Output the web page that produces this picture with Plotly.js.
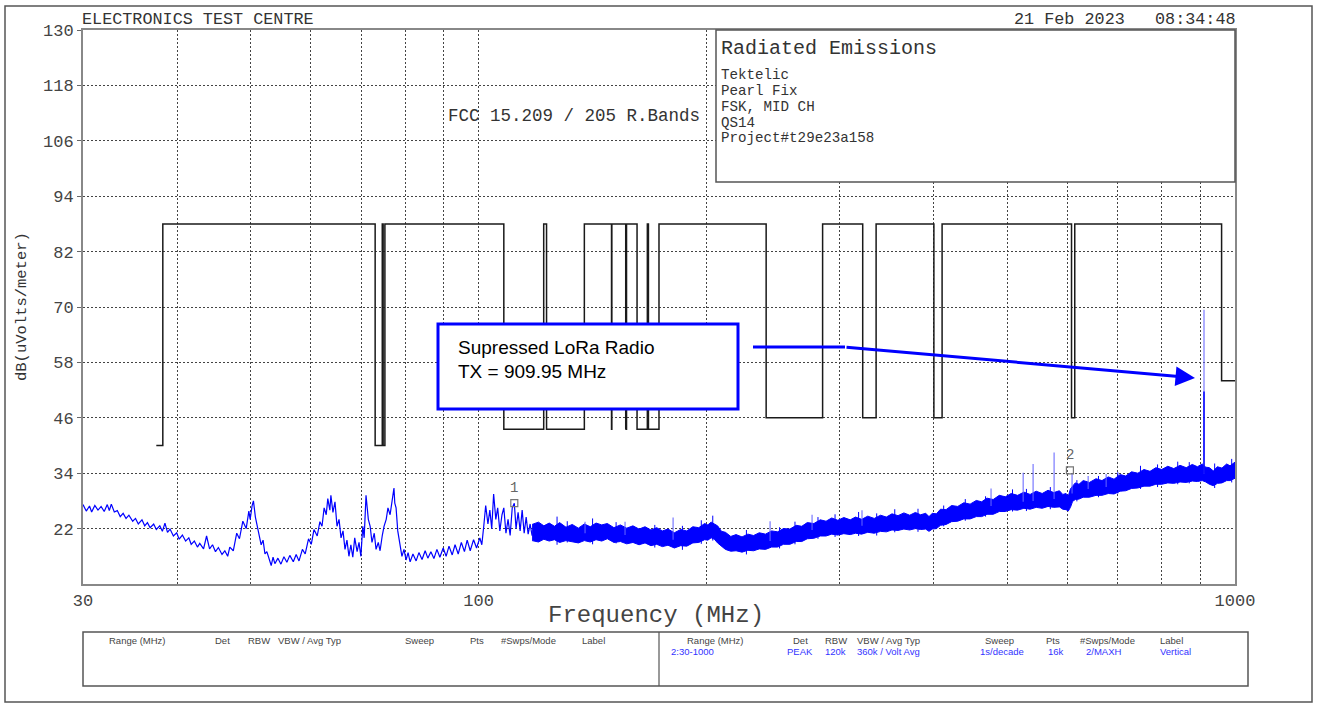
<!DOCTYPE html>
<html><head><meta charset="utf-8">
<script src="https://cdn.plot.ly/plotly-3.0.1.min.js"></script>
<style>html,body{margin:0;padding:0;background:#fff}</style>
</head><body><div id="chart" style="width:1318px;height:706px"></div>
<script>
// ---------- DATA ----------
// FCC 15.209 / 15.205 restricted-band limit line (step, held until next breakpoint)
const limitFreq  = [37.5,38.25,73,74.6,74.8,75.2,108,121.94,123,138,149.9,150.05,156.52475,156.52525,156.7,156.9,162.0125,167.17,167.72,173.2,240,285,322,335.4,399.9,410,608,614,960,1000];
const limitLevel = [40,88,40,88,40,88,43.5,88,43.5,88,43.5,88,43.5,88,43.5,88,43.5,88,43.5,88,46,88,46,88,46,88,46,88,54,54];

// Measured trace, 30 - 118 MHz
const lfFreq = [30.0,30.3,30.6,30.8,31.1,31.4,31.7,32.0,32.3,32.5,32.7,33.0,33.3,33.6,33.9,34.2,34.5,34.9,35.2,35.5,35.9,36.2,36.5,36.8,37.2,37.5,37.9,38.2,38.5,38.8,39.1,39.5,39.9,40.2,40.6,41.0,41.4,41.7,42.1,42.5,42.8,43.3,43.7,44.1,44.5,44.9,45.3,45.8,46.2,46.6,46.9,47.4,47.9,48.3,48.8,49.3,49.7,49.9,50.2,50.4,50.7,51.1,51.3,51.6,51.9,52.2,52.5,52.9,53.2,53.5,53.8,54.3,54.8,55.3,55.8,56.3,56.9,57.4,57.9,58.5,59.0,59.6,60.1,60.6,61.2,61.7,62.1,62.5,62.9,63.2,63.6,63.8,64.2,64.6,65.0,65.4,65.8,66.2,66.6,67.0,67.4,67.8,68.2,68.6,69.1,69.5,69.9,70.3,70.6,71.0,71.2,71.5,71.9,72.3,72.8,73.2,73.7,74.1,74.6,75.0,75.5,75.9,76.4,76.8,77.3,77.5,77.8,78.2,78.7,79.2,79.7,80.2,80.7,81.2,81.9,82.7,83.4,84.2,85.0,85.7,86.5,87.3,88.1,88.9,89.8,90.6,91.4,92.3,93.1,94.0,94.9,95.8,96.6,97.5,98.5,99.4,100.4,101.0,101.6,102.2,102.9,103.5,104.1,104.7,105.4,106.0,106.7,107.4,108.0,108.7,109.4,110.1,110.8,111.5,112.1,112.8,113.5,114.2,114.9,115.6,116.3,117.0,117.7];
const lfLevel = [27.2,25.8,26.9,25.6,27.0,26.0,26.8,25.7,27.2,25.9,27.3,25.6,25.9,24.6,25.3,24.2,24.9,23.6,24.2,23.0,23.9,22.6,23.3,22.2,23.0,21.8,22.6,21.4,23.2,21.2,21.9,20.4,21.1,19.7,20.6,19.3,20.0,18.6,19.3,18.0,18.8,17.6,20.4,17.6,18.5,17.0,17.9,16.4,17.2,16.0,18.0,17.2,21.0,19.8,23.6,22.0,25.8,24.0,27.0,28.0,24.5,22.0,20.5,18.5,19.5,16.5,17.0,15.0,14.0,15.8,14.4,15.6,14.3,15.9,14.7,16.2,14.8,16.4,15.0,17.5,16.5,19.8,18.6,21.8,20.4,23.5,22.5,26.5,25.0,28.5,26.0,29.2,25.5,27.8,22.5,24.0,20.0,21.5,17.5,19.5,16.0,18.5,15.8,20.0,17.0,19.0,16.0,22.5,20.0,29.2,27.0,24.0,22.5,19.0,21.0,17.5,19.0,17.2,20.5,22.5,24.0,26.5,25.0,28.0,30.8,27.5,26.5,21.5,18.5,16.0,17.5,15.2,16.8,14.8,16.5,15.0,16.8,15.3,17.2,15.6,17.0,15.5,17.5,15.8,17.8,16.0,18.2,16.3,18.5,16.5,19.0,17.0,19.5,17.2,19.6,17.8,20.0,18.5,22.5,27.0,23.0,26.0,22.0,29.5,24.0,26.5,21.5,25.0,26.5,21.0,24.0,20.5,26.5,27.5,22.0,25.5,21.5,26.0,21.0,24.5,20.8,23.0,20.5];

// Measured trace, 118 - 1000 MHz : dense band (max / min edge of the sweep)
const bandFreq  = [117.7,120,122,124,126,128,130.5,133,135.5,138,140.5,143,145.5,148,151,154,157,160,163,166,169,172,175,178,181.5,185,188.5,192,195.5,199,201,203,205,207,209.5,212,215.5,219,223,227,231,235,239.5,244,248.5,253,258,263,267.5,272,277.5,283,288,293,298.5,304,310,315,321,327,333.5,340,346,352,358.5,365,371.5,378,384,390,394,398,403,408,415,422,430,438,446.5,455,462.5,470,479,488,497,506,516,526,536,546,556,566,576,586,592,598,602,606,610,615,622,630,642,655,667,680,692,705,717,730,744,758,772,786,800,815,830,846,862,878,892,905,915,925,936,948,961,975,985,1000];
const bandUpper = [22.9,23.4,22.6,23.2,22.5,23.3,22.3,22.9,22.1,23.0,22.4,23.2,22.8,23.1,22.2,22.8,22.1,22.6,21.9,22.4,21.7,22.2,21.5,21.9,21.1,21.8,21.5,22.4,22.2,23.1,22.8,23.4,23.0,22.6,21.4,21.2,20.3,20.7,20.2,20.8,20.5,21.1,20.8,21.5,21.3,22.0,21.9,22.7,22.5,23.3,23.1,23.9,23.6,24.3,23.8,24.4,23.9,24.5,24.0,24.7,24.2,24.9,24.5,25.2,24.8,25.4,24.9,25.5,25.0,25.3,24.6,25.3,25.2,26.2,26.1,27.0,26.8,27.6,27.3,28.1,27.8,28.6,28.3,29.2,28.9,29.6,29.2,29.9,29.4,30.1,29.6,30.3,29.8,30.2,29.4,29.6,29.0,30.6,31.2,31.9,31.6,32.4,32.0,32.8,32.4,33.2,32.7,33.7,33.4,34.3,34.0,34.8,34.4,35.2,34.8,35.5,35.0,35.7,35.2,35.9,35.4,36.0,35.3,35.2,34.5,35.4,35.1,36.0,35.6,36.4];
const bandLower = [19.4,19.1,19.7,19.3,19.6,19.0,19.4,19.2,18.9,19.4,19.1,19.6,19.3,19.8,19.0,19.2,18.7,19.0,18.5,18.9,18.3,18.6,18.1,18.4,17.8,18.3,18.2,18.9,19.0,19.6,19.5,20.0,19.7,18.9,18.1,17.5,17.1,17.2,16.9,17.3,17.2,17.6,17.5,18.0,18.0,18.6,18.6,19.2,19.2,19.8,19.9,20.4,20.4,20.8,20.6,20.9,20.7,21.0,20.8,21.2,21.0,21.4,21.3,21.7,21.6,21.9,21.7,22.0,21.8,21.9,21.4,21.9,22.0,22.7,22.9,23.5,23.6,24.1,24.1,24.6,24.6,25.1,25.1,25.7,25.7,26.1,26.0,26.4,26.2,26.6,26.4,26.8,26.6,26.7,26.2,26.1,25.8,26.6,27.9,28.3,28.4,28.8,28.8,29.2,29.2,29.6,29.5,30.1,30.2,30.7,30.8,31.2,31.2,31.6,31.6,31.9,31.8,32.1,32.0,32.3,32.2,32.4,32.1,31.6,31.3,31.8,31.9,32.4,32.4,32.9];

// Irregular noise excursions (max / min) along the band
const noiseFreq = [127,131,141.5,152,171,186,197,204,226,250,262,281,296,318,336,355,381,412,440,468,508,530,570,618,660,700,750,790,840,870,940,990];
const noiseHigh = [24.6,23.6,24.2,23.4,22.8,22.6,23.8,24.8,21.7,22.3,23.5,24.5,25.1,25.6,25.3,26.2,26.3,27.0,28.4,29.0,30.5,30.6,31.0,32.5,33.4,34.2,35.6,35.9,36.5,36.4,36.1,37.1];
const noiseLow  = [18.5,19.0,18.6,18.8,17.9,17.4,18.7,19.4,16.4,17.7,18.6,19.8,20.2,20.4,20.5,21.2,21.3,22.5,23.7,24.6,25.7,25.8,26.2,27.9,28.8,29.6,30.6,31.0,31.6,31.8,30.8,32.0];

// Isolated emissions (max-hold spikes): base level and peak
const spikeFreq = [138.3,156.2,180.8,242.9,276.0,321.3,475.9,524.8,540.9,576.6,609.0,639.6,675.6,909.95];
const spikeBase = [21.0,20.6,19.6,19.3,21.7,22.6,26.9,27.8,28.0,28.4,29.6,30.6,31.0,33.9];
const spikeTop  = [23.5,23.5,24.4,23.6,25.0,26.0,30.7,34.1,36.0,38.5,34.0,33.4,33.8,69.4];
// LoRa transmitter (averaged trace)
const txFreq = [909.95];
const txBase = [33.9];
const txTop  = [51.7];

// Markers
const markerFreq  = [111.5, 605];
const markerLevel = [27.5, 34.6];
const markerLabel = ['1', '2'];

// Axis ticks
const xTickVals = [30,40,50,60,70,80,90,100,200,300,400,500,600,700,800,900,1000];
const xTickText = ['30','','','','','','','100','','','','','','','','','1000'];
const yTickVals = [22,34,46,58,70,82,94,106,118,130];

// Texts
const headerLeft  = 'ELECTRONICS TEST CENTRE';
const headerRight = '21 Feb 2023   08:34:48';
const limitLabel  = 'FCC 15.209 / 205 R.Bands';
const infoTitle   = 'Radiated Emissions';
const infoLines   = ['Tektelic','Pearl Fix','FSK, MID CH','QS14','Project#t29e23a158'];
const calloutLines = ['Supressed LoRa Radio','TX = 909.95 MHz'];
const tableHeaders = ['Range (MHz)','Det','RBW','VBW / Avg Typ','Sweep','Pts','#Swps/Mode','Label'];
const tableValues  = ['2:30-1000','PEAK','120k','360k / Volt Avg','1s/decade','16k','2/MAXH','Vertical'];

// ---------- LAYOUT HELPERS ----------
const L = 83, R = 1235, T = 30, B = 584;
const px = x => (x - L) / (R - L);
const py = y => (B - y) / (B - T);
const MONO = 'Liberation Mono, DejaVu Sans Mono, monospace';
const BLUE = '#0000ff';
const PAD = 3; // annotation inner padding compensation

// ---------- TRACES ----------
const traces = [];
traces.push({x: limitFreq, y: limitLevel, mode: 'lines', line: {shape: 'hv', color: '#1a1a1a', width: 1.5}, hoverinfo: 'skip'});

traces.push({
  x: bandFreq.concat(bandFreq.slice().reverse()),
  y: bandUpper.concat(bandLower.slice().reverse()),
  mode: 'lines', fill: 'toself', fillcolor: BLUE, line: {color: BLUE, width: 1}, hoverinfo: 'skip'
});

const nx = [], ny = [];
noiseFreq.forEach((f, i) => { nx.push(f, f, null); ny.push(noiseHigh[i], noiseLow[i], null); });
traces.push({x: nx, y: ny, mode: 'lines', line: {color: BLUE, width: 1}, hoverinfo: 'skip'});

traces.push({x: lfFreq, y: lfLevel, mode: 'lines', line: {color: BLUE, width: 1.2}, hoverinfo: 'skip'});

const sx = [], sy = [];
spikeFreq.forEach((f, i) => { sx.push(f, f, null); sy.push(spikeBase[i], spikeTop[i], null); });
traces.push({x: sx, y: sy, mode: 'lines', line: {color: 'rgba(100,100,255,0.8)', width: 1.3}, hoverinfo: 'skip'});

const tx = [], ty = [];
txFreq.forEach((f, i) => { tx.push(f, f, null); ty.push(txBase[i], txTop[i], null); });
traces.push({x: tx, y: ty, mode: 'lines', line: {color: BLUE, width: 1.5}, hoverinfo: 'skip'});

traces.push({x: markerFreq, y: markerLevel, mode: 'markers',
  marker: {symbol: 'square-open', size: 7, color: '#777', line: {width: 1.2, color: '#777'}}, hoverinfo: 'skip'});

// ---------- ANNOTATIONS ----------
const ann = [];
const A = (o) => ann.push(Object.assign({xref: 'paper', yref: 'paper', showarrow: false}, o));
A({x: px(83 - PAD), y: py(20), xanchor: 'left', yanchor: 'middle', text: headerLeft, font: {family: MONO, size: 16.8, color: '#333'}});
A({x: px(1235 + PAD), y: py(20), xanchor: 'right', yanchor: 'middle', text: headerRight, font: {family: MONO, size: 16.8, color: '#333'}});
A({x: px(449 - PAD), y: py(116), xanchor: 'left', yanchor: 'middle', text: limitLabel, font: {family: MONO, size: 17.5, color: '#333'}});
A({x: px(722 - PAD), y: py(48), xanchor: 'left', yanchor: 'middle', text: infoTitle, font: {family: MONO, size: 20, color: '#333'}});
const infoY = [75, 91, 107, 123, 138];
infoLines.forEach((t, i) => A({x: px(722 - PAD), y: py(infoY[i]), xanchor: 'left', yanchor: 'middle', text: t, font: {family: MONO, size: 14.2, color: '#333'}}));
A({x: px(22), y: py(307), xanchor: 'center', yanchor: 'middle', textangle: -90, text: 'dB(uVolts/meter)', font: {family: MONO, size: 15.5, color: '#333'}});
A({x: px(656), y: py(615), xanchor: 'center', yanchor: 'middle', text: 'Frequency (MHz)', font: {family: MONO, size: 24, color: '#444'}});
A({x: px(459 - PAD), y: py(348), xanchor: 'left', yanchor: 'middle', text: calloutLines[0], font: {family: 'Liberation Sans, Arial, sans-serif', size: 19, color: '#000'}});
A({x: px(459 - PAD), y: py(371), xanchor: 'left', yanchor: 'middle', text: calloutLines[1], font: {family: 'Liberation Sans, Arial, sans-serif', size: 19, color: '#000'}});
ann.push({xref: 'paper', yref: 'paper', x: px(1195), y: py(378), ax: -(1195 - 845), ay: -(378 - 347),
  text: '', showarrow: true, arrowhead: 2, arrowsize: 1.3, arrowwidth: 3, arrowcolor: BLUE, standoff: 0});
// table
const hdrL = [110,216,249,279,406,471,502,583];
const hdrR = [688,794,826,858,986,1047,1081,1161];
const valR = [672,788,826,858,981,1049,1087,1161];
const tFont = {family: 'Liberation Sans, Arial, sans-serif', size: 9.5, color: '#444'};
tableHeaders.forEach((t, i) => {
  A({x: px(hdrL[i] - PAD), y: py(640), xanchor: 'left', yanchor: 'middle', text: t, font: tFont});
  A({x: px(hdrR[i] - PAD), y: py(640), xanchor: 'left', yanchor: 'middle', text: t, font: tFont});
});
tableValues.forEach((t, i) => A({x: px(valR[i] - PAD), y: py(651), xanchor: 'left', yanchor: 'middle', text: t,
  font: {family: 'Liberation Sans, Arial, sans-serif', size: 9.5, color: '#3333ff'}}));
// marker labels
markerFreq.forEach((f, i) => ann.push({xref: 'x', yref: 'y', x: Math.log10(f), y: markerLevel[i], yshift: 15,
  text: markerLabel[i], showarrow: false, font: {family: MONO, size: 14, color: '#666'}}));

// ---------- SHAPES ----------
const shapes = [
  {type: 'rect', xref: 'paper', yref: 'paper', x0: px(716), x1: 1, y0: py(182), y1: 1, fillcolor: '#fff', line: {color: '#555', width: 1.5}, layer: 'above'},
  {type: 'rect', xref: 'paper', yref: 'paper', x0: px(438), x1: px(738), y0: py(409), y1: py(324), fillcolor: '#fff', line: {color: BLUE, width: 3}, layer: 'above'},
  {type: 'line', xref: 'paper', yref: 'paper', x0: px(753), x1: px(845), y0: py(347), y1: py(347), line: {color: BLUE, width: 3}, layer: 'above'},
  {type: 'rect', xref: 'paper', yref: 'paper', x0: 0, x1: px(1248), y0: py(686), y1: py(632), line: {color: '#555', width: 1.5}},
  {type: 'line', xref: 'paper', yref: 'paper', x0: px(659), x1: px(659), y0: py(686), y1: py(632), line: {color: '#555', width: 1.2}},
  {type: 'rect', xref: 'paper', yref: 'paper', x0: px(5), x1: px(1312), y0: py(702), y1: py(6), line: {color: '#555', width: 1.5}}
];

const layout = {
  width: 1318, height: 706,
  margin: {l: L, r: 1318 - R, t: T, b: 706 - B, pad: 0},
  paper_bgcolor: '#fff', plot_bgcolor: '#fff',
  showlegend: false,
  xaxis: {type: 'log', range: [Math.log10(30), Math.log10(1000)], tickmode: 'array', tickvals: xTickVals, ticktext: xTickText,
    showgrid: true, gridcolor: '#444', griddash: '2px,2px', gridwidth: 1, zeroline: false,
    showline: true, linecolor: '#888', linewidth: 2, mirror: true, ticks: '', ticklen: 0,
    tickfont: {family: MONO, size: 17, color: '#444'}},
  yaxis: {range: [10, 130], tickmode: 'array', tickvals: yTickVals,
    showgrid: true, gridcolor: '#444', griddash: '2px,2px', gridwidth: 1, zeroline: false,
    showline: true, linecolor: '#888', linewidth: 2, mirror: true, ticks: 'outside', ticklen: 4, tickcolor: '#666',
    tickfont: {family: MONO, size: 17, color: '#444'}},
  annotations: ann, shapes: shapes
};

Plotly.newPlot('chart', traces, layout, {displayModeBar: false, staticPlot: true});
</script></body></html>
